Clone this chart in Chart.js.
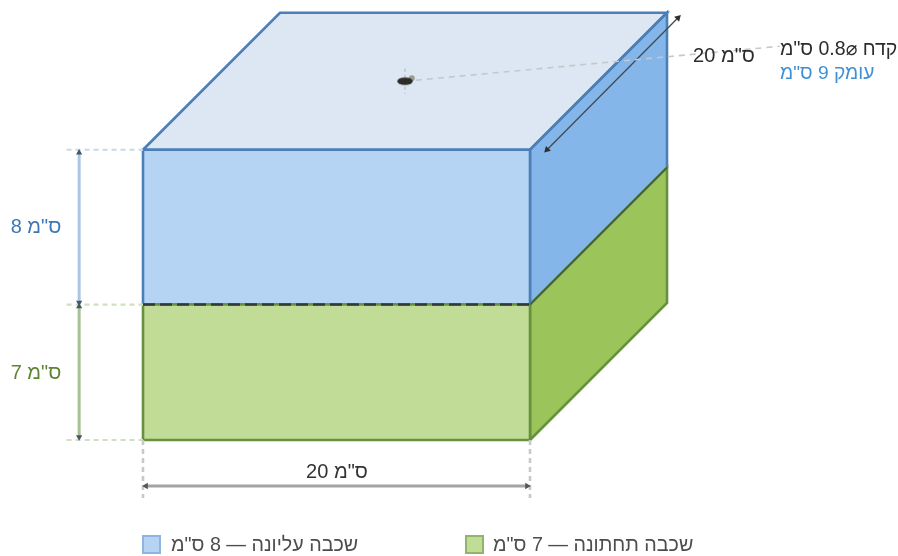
<!DOCTYPE html>
<html lang="he">
<head>
<meta charset="utf-8">
<title>שכבות</title>
<script src="https://cdn.jsdelivr.net/npm/chart.js@4"></script>
<style>
    html, body { margin: 0; padding: 0; background: #fff; }
    #chart { display: block; filter: blur(0.4px); }
</style>
</head>
<body>
<canvas id="chart" width="898" height="556"></canvas>
<script>
// measurements in cm, as printed on the drawing
const boxWidth = [20];
const boxDepth = [20];
const layerHeights = [7, 8]; // lower, upper
const holeCentre = [10, 10];
const holeDiameter = [0.8];

const widthLabels = ['ס"מ 20'];
const depthLabels = ['ס"מ 20'];
const layerLabels = ['ס"מ 7', 'ס"מ 8'];
const holeLabels = ['קדח ⌀0.8 ס"מ', 'עומק 9 ס"מ'];
const legendLabels = ['שכבה עליונה — 8 ס"מ', 'שכבה תחתונה — 7 ס"מ'];

// oblique projection: one cm of depth moves this much right and up
const PX_PER_CM = 19.35;
const SKEW = 137 / 20 / PX_PER_CM;
const FONT = '"Liberation Sans", "DejaVu Sans", sans-serif';

const W = boxWidth[0];
const D = boxDepth[0];
const Z1 = layerHeights[0];
const Z2 = layerHeights[0] + layerHeights[1];

const pt = (x, z, d = 0) => ({ x: x + d * SKEW, y: z + d * SKEW });

const face = (points, fill, stroke) => ({
    data: points,
    polygonFill: fill,
    borderColor: stroke,
    borderWidth: 2.6,
    pointRadius: 0
});

const line = (points, color, width, dash) => ({
    data: points,
    borderColor: color,
    borderWidth: width,
    borderDash: dash || [],
    pointRadius: 0
});

// line with a triangle head on both ends
const arrow = (a, b, color, width, head, headColor) => {
    const angle = Math.atan2(b.x - a.x, b.y - a.y) * 180 / Math.PI;
    return {
        data: [a, b],
        borderColor: color,
        borderWidth: width,
        pointStyle: 'triangle',
        pointRadius: head,
        pointBorderWidth: 0,
        pointBackgroundColor: headColor,
        pointRotation: [angle + 180, angle]
    };
};

const holeMark = document.createElement('canvas');
const holePx = holeDiameter[0] * PX_PER_CM;
holeMark.width = Math.ceil(holePx) + 4;
holeMark.height = Math.ceil(holePx / 2) + 4;
const holeCtx = holeMark.getContext('2d');
holeCtx.fillStyle = '#2c2c28';
holeCtx.beginPath();
holeCtx.ellipse(holeMark.width / 2, holeMark.height / 2, holePx / 2, holePx / 4, 0, 0, Math.PI * 2);
holeCtx.fill();

const holePt = pt(holeCentre[0], Z2, holeCentre[1]);
const leaderEnd = { x: 32.9, y: 20.35 };

const shapes = [
    face([pt(0, Z2), pt(W, Z2), pt(W, Z2, D), pt(0, Z2, D), pt(0, Z2)], '#dce7f3', '#4a7fb8'),
    face([pt(W, Z1), pt(W, Z1, D), pt(W, Z2, D), pt(W, Z2), pt(W, Z1)], '#85b6ea', '#4a7fb8'),
    face([pt(W, 0), pt(W, 0, D), pt(W, Z1, D), pt(W, Z1), pt(W, 0)], '#9bc45b', '#66923f'),
    face([pt(0, Z1), pt(W, Z1), pt(W, Z2), pt(0, Z2), pt(0, Z1)], '#b5d3f3', '#4a7fb8'),
    face([pt(0, 0), pt(W, 0), pt(W, Z1), pt(0, Z1), pt(0, 0)], '#c0dc96', '#66923f'),
    line([pt(0, Z1), pt(W, Z1)], '#33383a', 2.4, [12, 5]),
    line([pt(W, Z1), pt(W, Z1, D)], '#3f5a45', 1.6),

    // extension lines
    line([pt(-3.95, Z2), pt(0, Z2)], '#c6d9ec', 2.2, [5, 4]),
    line([pt(-3.95, Z1), pt(0, Z1)], '#cfe0c0', 2.2, [5, 4]),
    line([pt(-3.95, 0), pt(0, 0)], '#cfe0c0', 2.2, [5, 4]),
    line([pt(0, 0), pt(0, -3)], '#c8c8c8', 2.6, [5, 4]),
    line([pt(W, 0), pt(W, -3)], '#c8c8c8', 2.6, [5, 4]),

    // dimension arrows
    arrow({ x: -3.3, y: Z2 - 0.15 }, { x: -3.3, y: Z1 + 0.1 }, '#a9c6e4', 3, 3.6, '#4b5560'),
    arrow({ x: -3.3, y: Z1 - 0.1 }, { x: -3.3, y: 0.15 }, '#a9c295', 3, 3.6, '#4b5560'),
    arrow({ x: 0.15, y: -2.38 }, { x: W - 0.15, y: -2.38 }, '#a3a3a3', 3, 3.8, '#555'),
    arrow({ x: 20.88, y: 15 }, { x: 27.65, y: 21.82 }, '#3f4a55', 1.3, 4, '#2f2f2f'),

    // hole: cross marks, leader line, opening
    line([{ x: holePt.x, y: holePt.y + 0.65 }, { x: holePt.x, y: holePt.y - 0.65 }], '#b9c0c6', 1.4, [3, 3]),
    line([holePt, leaderEnd], '#c4c8cc', 1.6, [6, 5]),
    { data: [{ x: holePt.x + 0.35, y: holePt.y + 0.16 }], pointRadius: 3, pointBorderWidth: 0, pointBackgroundColor: '#9c9c92' },
    { data: [holePt], pointStyle: holeMark, pointRadius: 5 }
];

// draw in list order: chart.js paints the lowest order last
const datasets = shapes.map((s, i) => Object.assign({ showLine: true, tension: 0, clip: false, order: shapes.length - i }, s));

const texts = [
    { text: layerLabels[1], x: 36, y: 227, align: 'center', color: '#3d78b5' },
    { text: layerLabels[0], x: 36, y: 373, align: 'center', color: '#5f8433' },
    { text: widthLabels[0], x: 337, y: 472, align: 'center', color: '#333' },
    { text: depthLabels[0], x: 724, y: 56, align: 'center', color: '#2c2c2c' },
    { text: holeLabels[0], x: 780, y: 50, align: 'left', color: '#2c2c2c', size: 19.5 },
    { text: holeLabels[1], x: 780, y: 74, align: 'left', color: '#3f8fd6', size: 19.2 },
    { text: legendLabels[0], x: 171, y: 546, align: 'left', color: '#4d4d4d', size: 19.7 },
    { text: legendLabels[1], x: 493, y: 546, align: 'left', color: '#4d4d4d', size: 19.7 }
];

const swatches = [
    { x: 143, y: 536, fill: '#b5d3f3', stroke: '#8fb5de' },
    { x: 466, y: 536, fill: '#c0dc96', stroke: '#8fb56a' }
];

const polygonFill = {
    id: 'polygonFill',
    beforeDatasetDraw(chart, args) {
        const fill = chart.data.datasets[args.index].polygonFill;
        if (!fill) return;
        const { ctx } = chart;
        const points = args.meta.data;
        ctx.save();
        ctx.fillStyle = fill;
        ctx.beginPath();
        points.forEach((p, i) => (i ? ctx.lineTo(p.x, p.y) : ctx.moveTo(p.x, p.y)));
        ctx.closePath();
        ctx.fill();
        ctx.restore();
    }
};

const drawTexts = {
    id: 'drawTexts',
    afterDraw(chart) {
        const { ctx } = chart;
        ctx.save();
        swatches.forEach(s => {
            ctx.fillStyle = s.fill;
            ctx.strokeStyle = s.stroke;
            ctx.lineWidth = 2;
            ctx.fillRect(s.x, s.y, 17, 17);
            ctx.strokeRect(s.x, s.y, 17, 17);
        });
        ctx.direction = 'rtl';
        ctx.textBaseline = 'middle';
        texts.forEach(t => {
            ctx.font = `${t.size || 20}px ${FONT}`;
            ctx.textAlign = t.align;
            ctx.fillStyle = t.color;
            ctx.fillText(t.text, t.x, t.y);
        });
        ctx.restore();
    }
};

new Chart(document.getElementById('chart'), {
    type: 'scatter',
    data: { datasets },
    plugins: [polygonFill, drawTexts],
    options: {
        responsive: false,
        animation: false,
        events: [],
        layout: { padding: 0, autoPadding: false },
        plugins: { legend: { display: false }, tooltip: { enabled: false } },
        scales: {
            x: { type: 'linear', display: false, min: -143 / PX_PER_CM, max: (898 - 143) / PX_PER_CM },
            y: { type: 'linear', display: false, min: (440 - 556) / PX_PER_CM, max: 440 / PX_PER_CM }
        }
    }
});
</script>
</body>
</html>
